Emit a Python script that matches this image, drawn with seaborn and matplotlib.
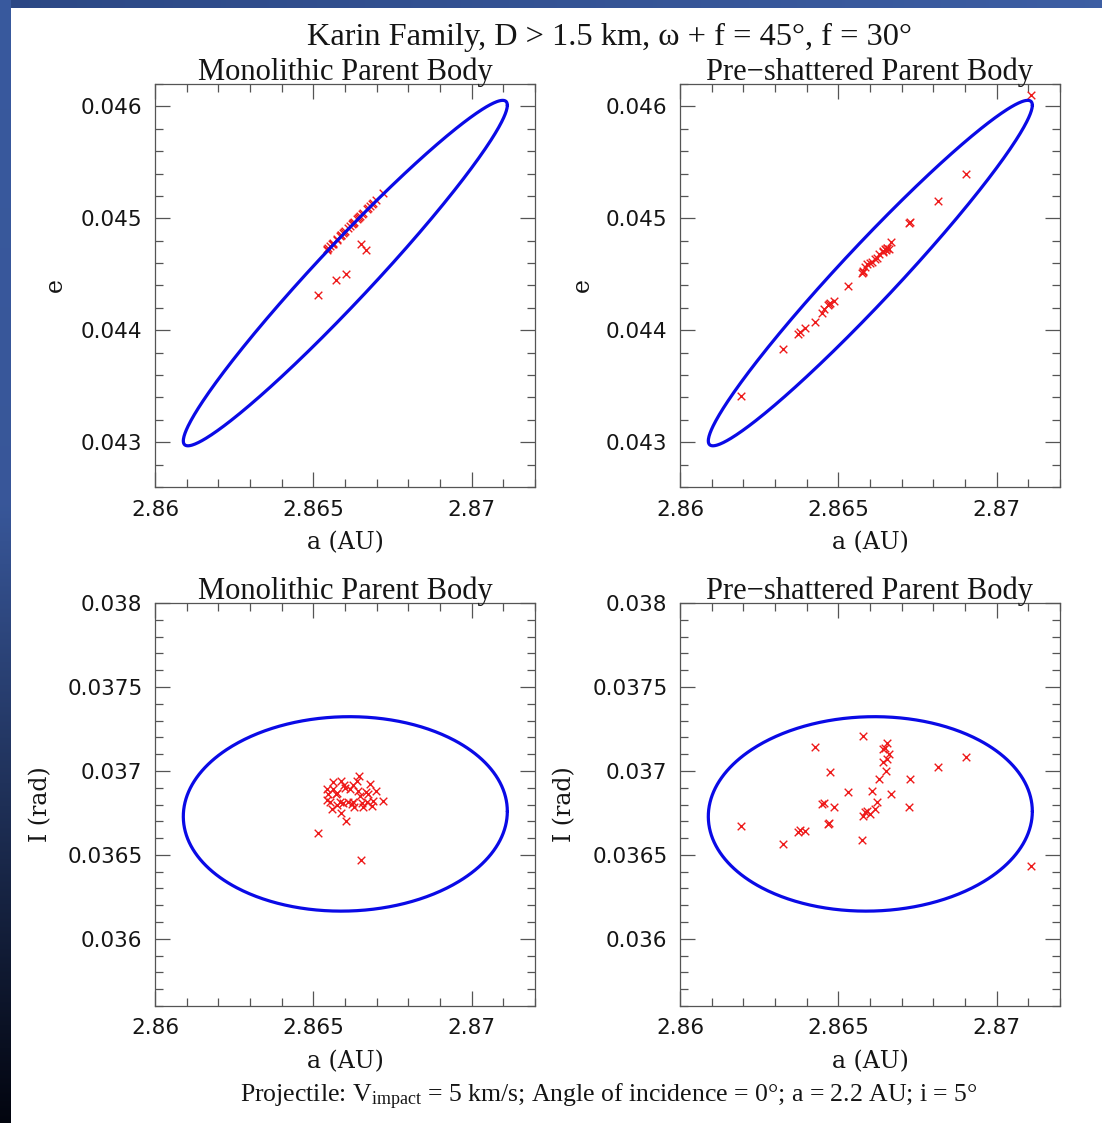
import numpy as np
import pandas as pd
import matplotlib
matplotlib.use("Agg")
import matplotlib.pyplot as plt
import seaborn as sns
from matplotlib.ticker import MultipleLocator, FixedLocator, FixedFormatter

# ---------------- data ----------------
# Monolithic parent body: semimajor axis (AU), eccentricity, inclination (rad)
mono_a = [2.866442, 2.865611, 2.865863, 2.865979, 2.866263, 2.866389, 2.866789, 2.865421,
          2.865611, 2.865737, 2.865474, 2.866000, 2.866158, 2.866421, 2.866737, 2.866979,
          2.865421, 2.865526, 2.865842, 2.865947, 2.866105, 2.866211, 2.866284, 2.866474,
          2.866526, 2.866684, 2.866874, 2.867211, 2.865579, 2.865737, 2.866579, 2.866842,
          2.865874, 2.866021, 2.865158, 2.866505, 2.866263, 2.865716, 2.866653]
mono_e = [0.045012, 0.044777, 0.044848, 0.044881, 0.044961, 0.044997, 0.045110, 0.044723,
          0.044770, 0.044812, 0.044738, 0.044887, 0.044931, 0.045006, 0.045095, 0.045163,
          0.044715, 0.044753, 0.044842, 0.044872, 0.044916, 0.044946, 0.044967, 0.045021,
          0.045036, 0.045080, 0.045134, 0.045229, 0.044768, 0.044805, 0.045050, 0.045125,
          0.044851, 0.044500, 0.044315, 0.044768, 0.044958, 0.044446, 0.044717]
mono_i = [0.036972, 0.036933, 0.036942, 0.036917, 0.036917, 0.036942, 0.036923, 0.036893,
          0.036893, 0.036869, 0.036863, 0.036897, 0.036893, 0.036883, 0.036863, 0.036879,
          0.036829, 0.036813, 0.036817, 0.036810, 0.036813, 0.036804, 0.036784, 0.036853,
          0.036810, 0.036813, 0.036823, 0.036821, 0.036774, 0.036798, 0.036784, 0.036794,
          0.036750, 0.036700, 0.036631, 0.036470, 0.036813, 0.036863, 0.036873]

# Pre-shattered parent body
pre_a = [2.871084, 2.869021, 2.868137, 2.867263, 2.867242, 2.866653, 2.866611, 2.866547,
         2.866526, 2.866505, 2.866474, 2.866421, 2.866400, 2.866295, 2.866211, 2.866158,
         2.866053, 2.866000, 2.865895, 2.865842, 2.865789, 2.865768, 2.865737, 2.865316,
         2.864863, 2.864737, 2.864716, 2.864684, 2.864547, 2.864474, 2.864263, 2.863947,
         2.863789, 2.863737, 2.863263, 2.861916]
pre_e = [0.046098, 0.045393, 0.045155, 0.044967, 0.044955, 0.044792, 0.044723, 0.044738,
         0.044738, 0.044717, 0.044729, 0.044708, 0.044702, 0.044679, 0.044649, 0.044640,
         0.044610, 0.044604, 0.044589, 0.044568, 0.044530, 0.044521, 0.044509, 0.044396,
         0.044262, 0.044241, 0.044232, 0.044223, 0.044187, 0.044158, 0.044074, 0.044024,
         0.043985, 0.043964, 0.043836, 0.043414]
pre_i = [0.036431, 0.037081, 0.037022, 0.036952, 0.036784, 0.036863, 0.037101, 0.037071,
         0.037165, 0.037002, 0.037135, 0.037131, 0.037052, 0.036952, 0.036813, 0.036774,
         0.036883, 0.036744, 0.036764, 0.036754, 0.036734, 0.037210, 0.036591, 0.036873,
         0.036784, 0.036992, 0.036690, 0.036681, 0.036810, 0.036804, 0.037141, 0.036641,
         0.036651, 0.036635, 0.036562, 0.036673]

# Velocity-dispersion ellipse parameters (centre, half extents, phase in degrees)
ell_a0, ell_a_half = 2.86601, 0.005116
ell_e0, ell_e_half, ell_e_phase = 0.044511, 0.001543, 13.7
ell_i0, ell_i_half, ell_i_phase = 0.036744, 0.000579, 88.5

x_ticks = [2.86, 2.865, 2.87]
x_ticklabels = ["2.86", "2.865", "2.87"]
e_ticks = [0.043, 0.044, 0.045, 0.046]
e_ticklabels = ["0.043", "0.044", "0.045", "0.046"]
i_ticks = [0.036, 0.0365, 0.037, 0.0375, 0.038]
i_ticklabels = ["0.036", "0.0365", "0.037", "0.0375", "0.038"]

panel_titles = ["Monolithic Parent Body", "Pre\u2212shattered Parent Body"]
main_title = "Karin Family, D > 1.5 km, \u03c9 + f = 45\u00b0, f = 30\u00b0"
footer = ("Projectile: V$_{\\mathrm{impact}}$ = 5 km/s; Angle of incidence = 0\u00b0; "
          "a = 2.2 AU; i = 5\u00b0")

# ---------------- frames ----------------
mono = pd.DataFrame({"a": mono_a, "e": mono_e, "I": mono_i})
pre = pd.DataFrame({"a": pre_a, "e": pre_e, "I": pre_i})
t = np.linspace(0, 2 * np.pi, 500)
ell = pd.DataFrame({
    "a": ell_a0 + ell_a_half * np.cos(t),
    "e": ell_e0 + ell_e_half * np.cos(t - np.deg2rad(ell_e_phase)),
    "I": ell_i0 + ell_i_half * np.cos(t - np.deg2rad(ell_i_phase)),
})

# ---------------- style ----------------
sns.set_theme(style="ticks")
plt.rcParams["font.family"] = ["DejaVu Sans"]
plt.rcParams["mathtext.fontset"] = "custom"
plt.rcParams["mathtext.rm"] = "Liberation Serif"
plt.rcParams["mathtext.it"] = "Liberation Serif:italic"

W, H = 1102, 1123
fig = plt.figure(figsize=(W / 100, H / 100), dpi=100)
fig.patch.set_facecolor("white")

# decorative gradient frame (left and top strips)
bg = np.ones((H, W, 3))
yy = np.linspace(0, 1, H)[:, None]
top_col = np.array([0.22, 0.35, 0.62])
mid_col = np.array([0.22, 0.34, 0.60])
bot_col = np.array([0.01, 0.02, 0.06])
f1 = np.clip(yy / 0.45, 0, 1)
f2 = np.clip((yy - 0.45) / 0.55, 0, 1)
left_cols = np.where(yy < 0.45, top_col * (1 - f1) + mid_col * f1, mid_col * (1 - f2) + bot_col * f2)
bg[:, :11, :] = left_cols[:, None, :]
xx = np.linspace(0, 1, W)[:, None]
top_strip = np.array([0.17, 0.28, 0.52]) * (1 - xx) + np.array([0.24, 0.37, 0.64]) * xx
bg[:8, 11:, :] = top_strip[11:][None, :, :]
axbg = fig.add_axes([0, 0, 1, 1], zorder=-10)
axbg.imshow(bg, aspect="auto", extent=[0, 1, 0, 1])
axbg.axis("off")

lefts = [155 / W, 680 / W]
width = 380 / W
height = 403 / H
bottoms = [1 - 487 / H, 1 - 1006 / H]

red = "#ee1a1a"
blue = "#0a0ae6"
spine_col = "#555555"
text_col = "#151515"

datasets = [mono, pre]
for row, (ycol, ylim, yt, ytl, yminor, ylabel, ylab_x) in enumerate([
        ("e", (0.0426, 0.0462), e_ticks, e_ticklabels, 0.0002, "e", [-0.231, -0.226]),
        ("I", (0.0356, 0.0380), i_ticks, i_ticklabels, 0.0001, "I (rad)", [-0.271, -0.274])]):
    for col in range(2):
        ax = fig.add_axes([lefts[col], bottoms[row], width, height])
        ax.set_facecolor("white")
        sns.lineplot(data=ell, x="a", y=ycol, sort=False, estimator=None,
                     color=blue, lw=2.3, ax=ax)
        sns.scatterplot(data=datasets[col], x="a", y=ycol, marker="x", color=red,
                        s=30, linewidth=1.0, ax=ax)
        ax.set_xlim(2.86, 2.872)
        ax.set_ylim(*ylim)
        ax.xaxis.set_major_locator(FixedLocator(x_ticks))
        ax.xaxis.set_major_formatter(FixedFormatter(x_ticklabels))
        ax.xaxis.set_minor_locator(MultipleLocator(0.001))
        ax.yaxis.set_major_locator(FixedLocator(yt))
        ax.yaxis.set_major_formatter(FixedFormatter(ytl))
        ax.yaxis.set_minor_locator(MultipleLocator(yminor))
        ax.tick_params(which="both", direction="in", top=True, right=True,
                       color=spine_col, width=0.9)
        ax.tick_params(which="major", length=11, labelsize=15.5, pad=9,
                       labelcolor=text_col)
        ax.tick_params(which="minor", length=5.5)
        for sp in ax.spines.values():
            sp.set_color(spine_col)
            sp.set_linewidth(0.9)
        ax.set_xlabel("a (AU)", family="DejaVu Serif", fontsize=17, color=text_col)
        ax.xaxis.set_label_coords(0.5, -0.110)
        ax.set_ylabel(ylabel, family="DejaVu Serif", fontsize=17, color=text_col)
        ax.yaxis.set_label_coords(ylab_x[col], 0.5)
        ax.text(0.5, 1.0 + 12 / 403, panel_titles[col], transform=ax.transAxes,
                ha="center", va="center", family="Liberation Serif", fontsize=22,
                color=text_col)
        if ax.get_legend() is not None:
            ax.get_legend().remove()

fig.text(609.5 / W, 1 - 37 / H, main_title, ha="center", va="center",
         family="Liberation Serif", fontsize=23.3, color=text_col)
fig.text(608.5 / W, 1 - 1097 / H, footer, ha="center", va="center",
         family="Liberation Serif", fontsize=18.5, color=text_col)

fig.savefig("out.png", dpi=100)
